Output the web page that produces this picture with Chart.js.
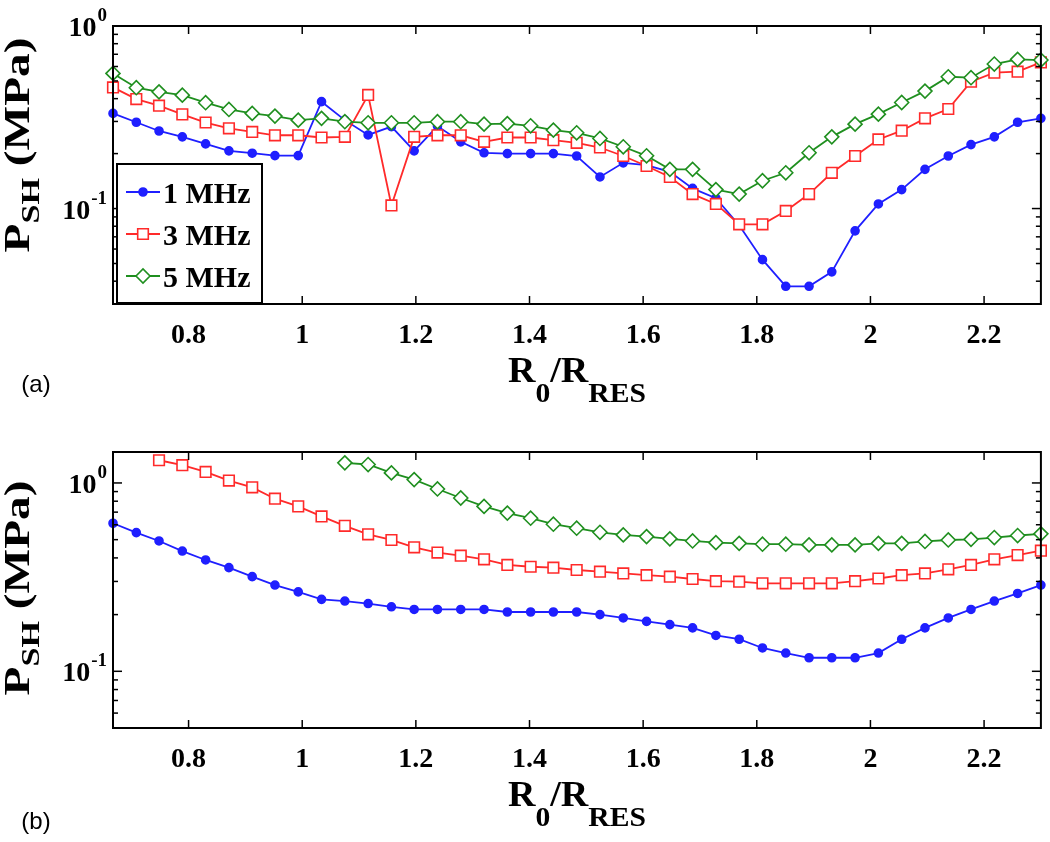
<!DOCTYPE html>
<html>
<head>
<meta charset="utf-8">
<script src="https://cdn.jsdelivr.net/npm/chart.js@4.4.0/dist/chart.umd.min.js"></script>
<style>
  body { margin: 0; background: #fff; }
  #marco { position: relative; width: 1050px; height: 842px; }
  canvas { position: absolute; left: 0; }
</style>
</head>
<body>
<div id="marco">
  <canvas id="graficaA" width="1050" height="421" style="top:0"></canvas>
  <canvas id="graficaB" width="1050" height="421" style="top:421px"></canvas>
</div>
<script>
// Datos (R0/RRES y P_SH en MPa)
const radios = [0.667, 0.708, 0.748, 0.789, 0.830, 0.871, 0.912, 0.952, 0.993, 1.034,
  1.075, 1.116, 1.157, 1.197, 1.238, 1.279, 1.320, 1.361, 1.402, 1.442,
  1.483, 1.524, 1.565, 1.606, 1.647, 1.687, 1.728, 1.769, 1.810, 1.851,
  1.892, 1.932, 1.973, 2.014, 2.055, 2.096, 2.137, 2.177, 2.218, 2.259, 2.300];

const etiquetas = ['1 MHz', '3 MHz', '5 MHz'];

// panel (a)
const psh1A = [0.332, 0.297, 0.266, 0.247, 0.226, 0.207, 0.201, 0.195, 0.195, 0.385,
  0.305, 0.253, 0.281, 0.207, 0.283, 0.232, 0.202, 0.200, 0.200, 0.200,
  0.194, 0.149, 0.178, 0.173, 0.159, 0.129, 0.114, 0.081, 0.0525, 0.0375,
  0.0375, 0.045, 0.0755, 0.106, 0.127, 0.164, 0.194, 0.224, 0.247, 0.297, 0.312];
const psh3A = [0.461, 0.398, 0.366, 0.328, 0.296, 0.275, 0.263, 0.252, 0.252, 0.245,
  0.247, 0.419, 0.104, 0.247, 0.252, 0.252, 0.232, 0.245, 0.245, 0.237,
  0.229, 0.216, 0.194, 0.171, 0.149, 0.120, 0.106, 0.082, 0.082, 0.097,
  0.120, 0.157, 0.194, 0.239, 0.267, 0.312, 0.351, 0.495, 0.555, 0.562, 0.632];
const psh5A = [0.550, 0.459, 0.436, 0.418, 0.380, 0.349, 0.332, 0.321, 0.305, 0.312,
  0.299, 0.295, 0.295, 0.295, 0.299, 0.299, 0.290, 0.292, 0.284, 0.269,
  0.260, 0.242, 0.218, 0.1945, 0.164, 0.164, 0.127, 0.120, 0.142, 0.157,
  0.202, 0.247, 0.290, 0.329, 0.381, 0.440, 0.527, 0.521, 0.619, 0.656, 0.651];

// panel (b)
const psh1B = [0.611, 0.545, 0.492, 0.435, 0.390, 0.355, 0.318, 0.287, 0.264, 0.241,
  0.236, 0.229, 0.220, 0.213, 0.213, 0.213, 0.213, 0.2065, 0.2065, 0.2065,
  0.2065, 0.200, 0.192, 0.184, 0.177, 0.170, 0.155, 0.148, 0.133, 0.125,
  0.118, 0.118, 0.118, 0.125, 0.148, 0.170, 0.192, 0.213, 0.236, 0.259, 0.287];
const psh3B = [null, null, 1.32, 1.242, 1.145, 1.029, 0.948, 0.825, 0.751, 0.664,
  0.592, 0.534, 0.498, 0.455, 0.427, 0.411, 0.393, 0.367, 0.359, 0.355,
  0.345, 0.338, 0.331, 0.324, 0.318, 0.309, 0.301, 0.299, 0.293, 0.293,
  0.293, 0.293, 0.301, 0.311, 0.324, 0.331, 0.348, 0.367, 0.393, 0.414, 0.437];
const psh5B = [null, null, null, null, null, null, null, null, null, null,
  1.279, 1.253, 1.131, 1.042, 0.929, 0.832, 0.751, 0.692, 0.650, 0.604,
  0.575, 0.547, 0.530, 0.519, 0.505, 0.492, 0.482, 0.478, 0.473, 0.473,
  0.469, 0.469, 0.469, 0.478, 0.478, 0.489, 0.498, 0.502, 0.513, 0.526, 0.537];

// ejes
const limitesX = [0.667, 2.3];
const marcasX = [0.8, 1.0, 1.2, 1.4, 1.6, 1.8, 2.0, 2.2];
const etiquetasX = ['0.8', '1', '1.2', '1.4', '1.6', '1.8', '2', '2.2'];
const decadasY = [0.1, 1];
const exponentesY = ['-1', '0'];
const limitesYA = [0.03, 1];
const limitesYB = [0.05, 1.46];

const SERIF = '"Liberation Serif", "Times New Roman", serif';

function linea(ctx, x1, y1, x2, y2) {
  ctx.beginPath();
  ctx.moveTo(x1, y1);
  ctx.lineTo(x2, y2);
  ctx.stroke();
}

// texto con subíndices: partes = [[texto, tamaño, desplazamiento]]
function textoPartes(ctx, partes, x, y, ancho) {
  let total = 0;
  const anchos = partes.map(p => {
    ctx.font = 'bold ' + p[1] + 'px ' + SERIF;
    const w = ctx.measureText(p[0]).width;
    total += w;
    return w;
  });
  ctx.save();
  ctx.translate(x, y);
  ctx.scale(ancho / total, 1);
  ctx.textAlign = 'left';
  ctx.textBaseline = 'alphabetic';
  let cx = -total / 2;
  partes.forEach((p, i) => {
    ctx.font = 'bold ' + p[1] + 'px ' + SERIF;
    ctx.fillText(p[0], cx, p[2]);
    cx += anchos[i];
  });
  ctx.restore();
}

const marco = {
  id: 'marco',
  afterDraw(chart, args, op) {
    const ctx = chart.ctx, a = chart.chartArea;
    const x = chart.scales.x, y = chart.scales.y;
    ctx.save();
    ctx.strokeStyle = '#000';
    ctx.fillStyle = '#000';

    // marcas del eje x
    ctx.lineWidth = 1.5;
    ctx.font = 'bold 28px ' + SERIF;
    ctx.textAlign = 'center';
    ctx.textBaseline = 'alphabetic';
    marcasX.forEach((v, i) => {
      const px = x.getPixelForValue(v);
      linea(ctx, px, a.bottom, px, a.bottom - 8);
      linea(ctx, px, a.top, px, a.top + 8);
      ctx.fillText(etiquetasX[i], px, a.bottom + 39);
    });

    // marcas logarítmicas del eje y
    const d0 = Math.floor(Math.log10(y.min)), d1 = Math.ceil(Math.log10(y.max));
    for (let d = d0; d <= d1; d++) {
      for (let m = 1; m <= 9; m++) {
        const v = m * Math.pow(10, d);
        if (v < y.min * 0.999 || v > y.max * 1.001) continue;
        const py = y.getPixelForValue(v);
        const l = m === 1 ? 9 : 5;
        linea(ctx, a.left, py, a.left + l, py);
        linea(ctx, a.right, py, a.right - l, py);
      }
    }
    ctx.textAlign = 'right';
    decadasY.forEach((v, i) => {
      const py = y.getPixelForValue(v);
      ctx.font = 'bold 19px ' + SERIF;
      const we = ctx.measureText(exponentesY[i]).width;
      ctx.fillText(exponentesY[i], a.left - 6, py - 5);
      ctx.font = 'bold 28px ' + SERIF;
      ctx.fillText('10', a.left - 7 - we, py + 10);
    });

    // recuadro
    ctx.lineWidth = 2;
    ctx.strokeRect(a.left, a.top, a.right - a.left, a.bottom - a.top);

    // títulos de ejes
    textoPartes(ctx, [['R', 36, 0], ['0', 28, 20], ['/', 36, 0], ['R', 36, 0], ['RES', 28, 20]],
      (a.left + a.right) / 2, a.bottom + 78, 138);
    ctx.save();
    ctx.translate(29, op.tituloY);
    ctx.rotate(-Math.PI / 2);
    textoPartes(ctx, [['P', 36, 0], ['SH', 26, 10], [' (MPa)', 36, 0]], 0, 0, 215);
    ctx.restore();

    // etiqueta del panel
    ctx.font = '24px "Liberation Sans", Arial, sans-serif';
    ctx.textAlign = 'center';
    ctx.textBaseline = 'middle';
    ctx.fillText(op.panel, 36, op.panelY);

    // leyenda
    if (op.leyenda) {
      const lx = a.left + 4, ly = a.bottom - 140, lw = 145, lh = 139;
      ctx.fillStyle = '#fff';
      ctx.fillRect(lx, ly, lw, lh);
      ctx.strokeStyle = '#000';
      ctx.lineWidth = 2;
      ctx.strokeRect(lx, ly, lw, lh);
      ctx.textAlign = 'left';
      ctx.textBaseline = 'alphabetic';
      chart.data.datasets.forEach((ds, i) => {
        const yy = ly + 28 + i * 42;
        ctx.strokeStyle = ds.borderColor;
        ctx.lineWidth = ds.borderWidth;
        linea(ctx, lx + 9, yy, lx + 43, yy);
        ctx.fillStyle = ds.pointBackgroundColor;
        ctx.lineWidth = ds.pointBorderWidth;
        Chart.helpers.drawPoint(ctx, {
          pointStyle: ds.pointStyle, radius: ds.pointRadius,
          borderWidth: ds.pointBorderWidth, rotation: 0
        }, lx + 26, yy);
        ctx.fillStyle = '#000';
        ctx.font = 'bold 30px ' + SERIF;
        ctx.fillText(ds.label, lx + 46, yy + 11);
      });
    }
    ctx.restore();
  }
};

function serie(etiqueta, valores, color, estilo, radio, relleno, orden) {
  return {
    label: etiqueta,
    data: radios.map((r, i) => ({ x: r, y: valores[i] })),
    borderColor: color,
    backgroundColor: relleno,
    pointBackgroundColor: relleno,
    pointBorderColor: color,
    pointStyle: estilo,
    pointRadius: radio,
    pointBorderWidth: 1.6,
    borderWidth: 1.8,
    tension: 0,
    clip: false,
    order: orden
  };
}

const AZUL = '#1f1fff', ROJO = '#ff2a2a', VERDE = '#1f8f1f';

function crearGrafica(id, v1, v3, v5, limY, arriba, altoX, opMarco) {
  return new Chart(document.getElementById(id), {
    type: 'line',
    data: {
      datasets: [
        serie(etiquetas[0], v1, AZUL, 'circle', 4, AZUL, 2),
        serie(etiquetas[1], v3, ROJO, 'rect', 7.5, '#fff', 1),
        serie(etiquetas[2], v5, VERDE, 'rectRot', 7, '#fff', 0)
      ]
    },
    options: {
      responsive: false,
      animation: false,
      events: [],
      layout: { padding: { top: arriba, right: 7, left: 0, bottom: 0 } },
      scales: {
        x: {
          type: 'linear', min: limitesX[0], max: limitesX[1],
          ticks: { display: false }, grid: { display: false }, border: { display: false },
          afterFit: s => { s.height = altoX; }
        },
        y: {
          type: 'logarithmic', min: limY[0], max: limY[1],
          ticks: { display: false }, grid: { display: false }, border: { display: false },
          afterFit: s => { s.width = 113; }
        }
      },
      plugins: {
        legend: { display: false },
        tooltip: { enabled: false },
        marco: opMarco
      }
    },
    plugins: [marco]
  });
}

crearGrafica('graficaA', psh1A, psh3A, psh5A, limitesYA, 26, 117,
  { panel: '(a)', panelY: 385, tituloY: 145, leyenda: true });
crearGrafica('graficaB', psh1B, psh3B, psh5B, limitesYB, 31, 114,
  { panel: '(b)', panelY: 401, tituloY: 167, leyenda: false });
</script>
</body>
</html>
